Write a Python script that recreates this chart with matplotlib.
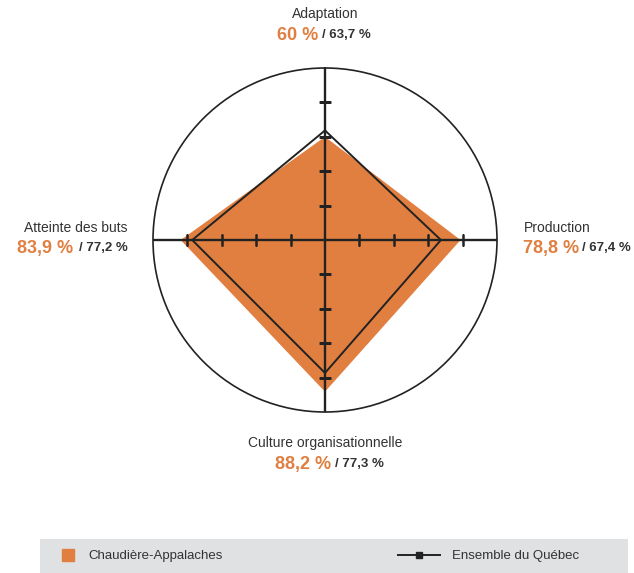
import numpy as np
import matplotlib
matplotlib.use("Agg")
import matplotlib.pyplot as plt

plt.rcParams['font.family'] = ['Liberation Sans', 'DejaVu Sans']

# data
categories = ['Adaptation', 'Production', 'Culture organisationnelle', 'Atteinte des buts']
region_vals = [60.0, 78.8, 88.2, 83.9]
quebec_vals = [63.7, 67.4, 77.3, 77.2]
region_txt = ['60 %', '78,8 %', '88,2 %', '83,9 %']
quebec_txt = ['/ 63,7 %', '/ 67,4 %', '/ 77,3 %', '/ 77,2 %']
axis_ticks = [20, 40, 60, 80]
series_names = ['Chaudière-Appalaches', 'Ensemble du Québec']

ORANGE = '#e07f40'
DARK = '#222222'
GREY = '#333333'

W, H = 634, 573
fig = plt.figure(figsize=(W / 100, H / 100), dpi=100)

def fx(x):
    return x / W

def fy(y):
    return 1 - y / H

# radar axes: center (325, 240), radius 172 px
cx, cy, r = 325, 240, 172
ax = fig.add_axes([fx(cx - r), fy(cy + r), 2 * r / W, 2 * r / H], projection='polar')
ax.set_theta_zero_location('N')
ax.set_theta_direction(-1)
ax.set_ylim(0, 100)
ax.grid(False)
ax.set_xticks([])
ax.set_yticks([])
ax.spines['polar'].set_color(DARK)
ax.spines['polar'].set_linewidth(1.2)
ax.patch.set_alpha(0)

theta = np.linspace(0, 2 * np.pi, len(categories), endpoint=False)
th_closed = np.append(theta, theta[0])

ax.fill(th_closed, region_vals + region_vals[:1], color=ORANGE, lw=0, zorder=2)
ax.plot(th_closed, quebec_vals + quebec_vals[:1], color=DARK, lw=1.4, zorder=4)

# axis lines with tick marks
for i, a in enumerate(theta):
    ax.plot([a, a], [0, 100], color=DARK, lw=1.7, zorder=3)
    mk = '_' if i % 2 == 0 else '|'
    ax.plot([a] * len(axis_ticks), axis_ticks, ls='none', marker=mk, ms=9,
            mew=1.8, color=DARK, zorder=3)

# labels
lab_fs, val_fs, sub_fs = 10, 13, 9.5

def two_part(x_split, y, i, gap=3):
    fig.text(fx(x_split - gap / 2), fy(y), region_txt[i], color=ORANGE,
             fontsize=val_fs, fontweight='bold', ha='right', va='center')
    fig.text(fx(x_split + gap / 2), fy(y), quebec_txt[i], color=GREY,
             fontsize=sub_fs, fontweight='bold', ha='left', va='center')

# Adaptation (top)
fig.text(fx(325), fy(14), categories[0], color=GREY, fontsize=lab_fs, ha='center', va='center')
two_part(320, 35, 0)
# Culture organisationnelle (bottom)
fig.text(fx(325), fy(443), categories[2], color=GREY, fontsize=lab_fs, ha='center', va='center')
two_part(333, 464, 2)
# Production (right)
fig.text(fx(524), fy(228), categories[1], color=GREY, fontsize=lab_fs, ha='left', va='center')
fig.text(fx(523), fy(248), region_txt[1], color=ORANGE, fontsize=val_fs,
         fontweight='bold', ha='left', va='center')
fig.text(fx(631), fy(248), quebec_txt[1], color=GREY, fontsize=sub_fs,
         fontweight='bold', ha='right', va='center')
# Atteinte des buts (left)
fig.text(fx(128), fy(228), categories[3], color=GREY, fontsize=lab_fs, ha='right', va='center')
fig.text(fx(128), fy(248), quebec_txt[3], color=GREY, fontsize=sub_fs,
         fontweight='bold', ha='right', va='center')
fig.text(fx(73), fy(248), region_txt[3], color=ORANGE, fontsize=val_fs,
         fontweight='bold', ha='right', va='center')

# legend band
lax = fig.add_axes([fx(40), fy(573), (628 - 40) / W, 34 / H])
lax.set_xlim(40, 628)
lax.set_ylim(573, 539)
lax.set_facecolor('#dfe1e3')
for s in lax.spines.values():
    s.set_visible(False)
lax.set_xticks([])
lax.set_yticks([])
lax.plot([67.5], [555], marker='s', ms=9, color=ORANGE, ls='none')
lax.text(88, 555, series_names[0], fontsize=9.5, color=GREY, va='center_baseline', ha='left')
lax.plot([398, 440], [555, 555], color=DARK, lw=1.4)
lax.plot([419], [555], marker='s', ms=5, color=DARK, ls='none')
lax.text(452, 555, series_names[1], fontsize=9.5, color=GREY, va='center_baseline', ha='left')

fig.savefig('out.png', dpi=100)
